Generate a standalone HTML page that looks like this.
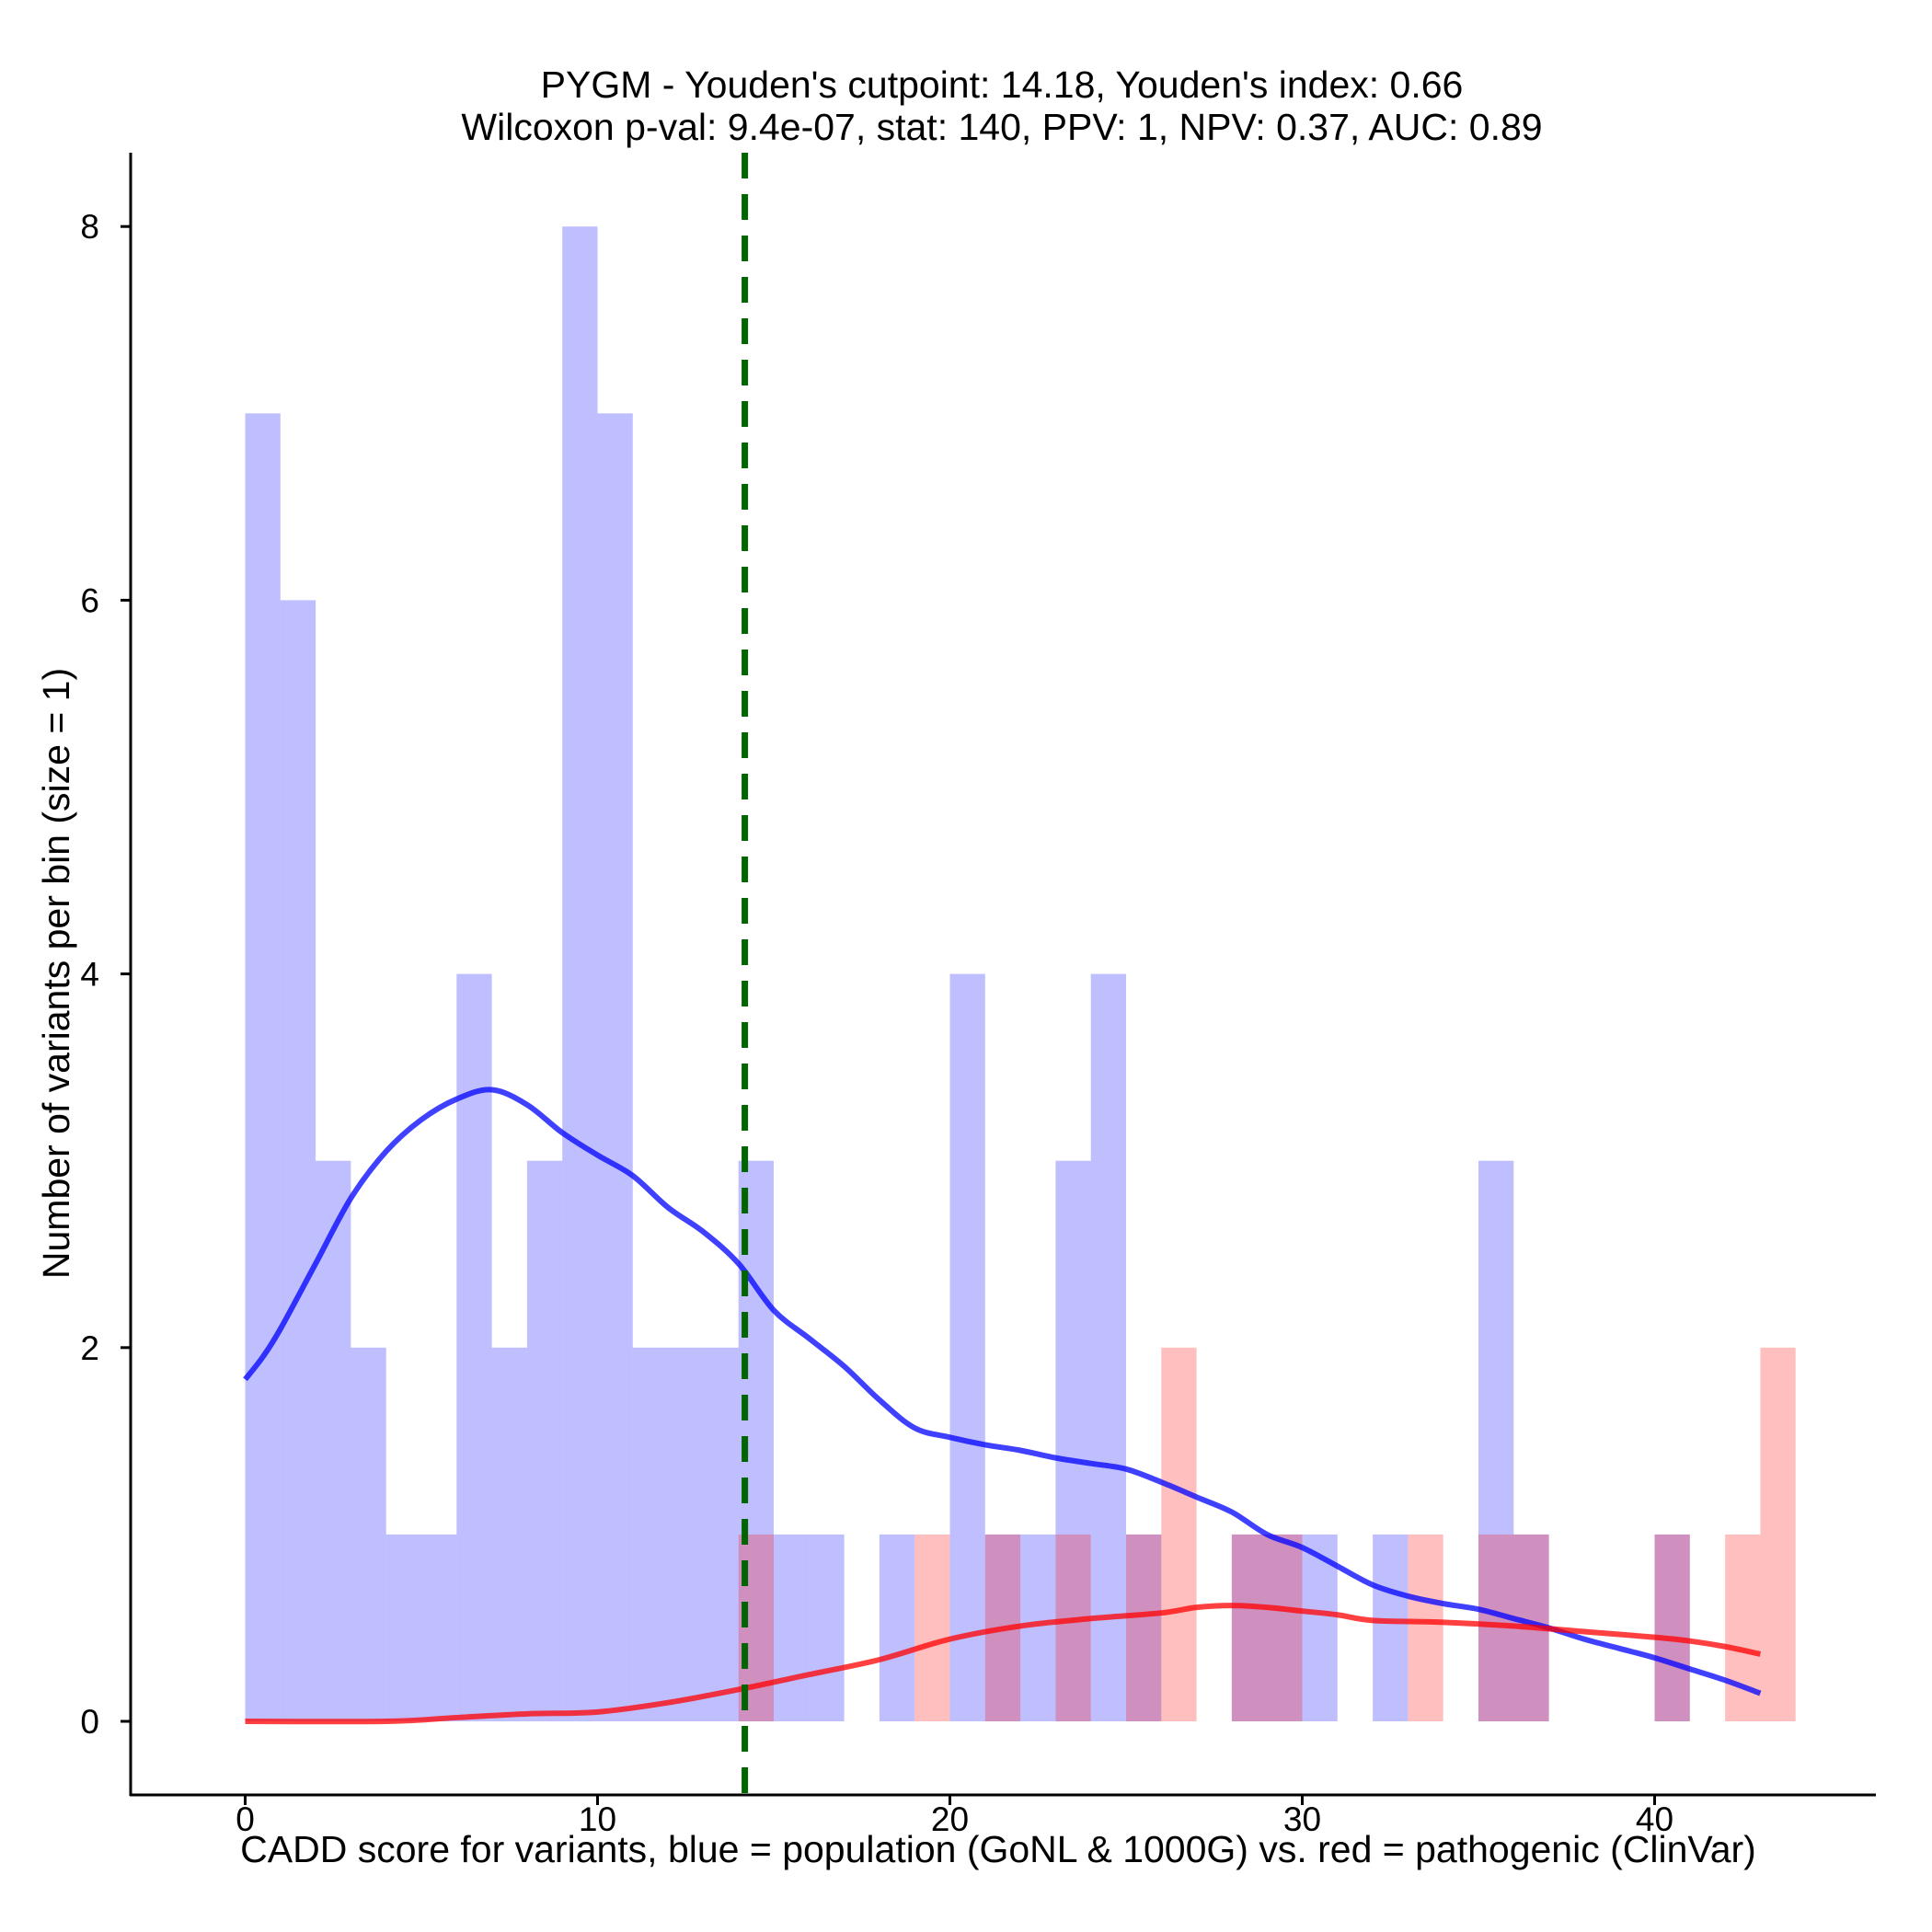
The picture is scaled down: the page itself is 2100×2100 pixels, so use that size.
<!DOCTYPE html>
<html><head><meta charset="utf-8"><style>
html,body{margin:0;padding:0;background:#fff;}
svg{display:block;font-family:"Liberation Sans",Arial,sans-serif;}
</style></head><body>
<svg id="chart" width="2100" height="2100" viewBox="0 0 2100 2100" xmlns="http://www.w3.org/2000/svg">
<rect width="2100" height="2100" fill="#fff"/>
<g id="bars"></g>
<g id="lines"></g>
<g id="axes"></g>
<text x="1089" y="106" font-size="41" text-anchor="middle">PYGM - Youden's cutpoint: 14.18, Youden's index: 0.66</text>
<text x="1089" y="152" font-size="41" text-anchor="middle">Wilcoxon p-val: 9.4e-07, stat: 140, PPV: 1, NPV: 0.37, AUC: 0.89</text>
<text x="1085" y="2024" font-size="41" text-anchor="middle">CADD score for variants, blue = population (GoNL &amp; 1000G) vs. red = pathogenic (ClinVar)</text>
<text x="0" y="0" font-size="41" text-anchor="middle" transform="translate(75,1058) rotate(-90)">Number of variants per bin (size = 1)</text>
</svg>
<script>
const blueCounts=[7,6,3,2,1,1,4,2,3,8,7,2,2,2,3,1,1,0,1,0,4,1,1,3,4,1,0,0,1,1,1,0,1,0,0,3,1,0,0,0,1,0,0,0];
const redCounts=[0,0,0,0,0,0,0,0,0,0,0,0,0,0,1,0,0,0,0,1,0,1,0,1,0,1,2,0,1,1,0,0,0,1,0,1,1,0,0,0,1,0,1,2];
const blueX=[0,0.5,1,2,3,4,5,6,7,8,9,10,11,12,13,14,15,16,17,18,19,20,21,22,23,24,25,26,27,28,29,30,31,32,33,34,35,36,37,38,39,40,41,42,43];
const blueY=[1.83,1.95,2.1,2.45,2.8,3.05,3.22,3.33,3.38,3.3,3.15,3.03,2.92,2.75,2.62,2.45,2.2,2.05,1.9,1.72,1.57,1.52,1.48,1.45,1.41,1.38,1.35,1.28,1.2,1.12,1.0,0.93,0.83,0.73,0.67,0.63,0.6,0.55,0.5,0.44,0.39,0.34,0.28,0.22,0.15];
const redX=[0,4,6,8,10,12,14,16,18,20,22,24,26,27,28,29,30,31,32,34,36,38,40,41,42,43];
const redY=[0,0,0.02,0.04,0.05,0.1,0.17,0.25,0.33,0.44,0.51,0.55,0.58,0.61,0.62,0.61,0.59,0.57,0.54,0.53,0.51,0.48,0.45,0.43,0.4,0.36];
const xTicks=[0,10,20,30,40];
const yTicks=[0,2,4,6,8];
const cutpoint=14.18;
const NS='http://www.w3.org/2000/svg';
const X=v=>266.5+v*38.3;
const Y=v=>1871-v*203.1;
function mk(t,a,p){const e=document.createElementNS(NS,t);for(const k in a)e.setAttribute(k,a[k]);p.appendChild(e);return e;}
function smooth(xs,ys){const p=xs.map((x,i)=>[X(x),Y(ys[i])]);let d='M'+p[0][0]+','+p[0][1];
 for(let i=0;i<p.length-1;i++){const p0=p[i-1]||p[i],p1=p[i],p2=p[i+1],p3=p[i+2]||p2;
  d+=' C'+(p1[0]+(p2[0]-p0[0])/6)+','+(p1[1]+(p2[1]-p0[1])/6)+' '+(p2[0]-(p3[0]-p1[0])/6)+','+(p2[1]-(p3[1]-p1[1])/6)+' '+p2[0]+','+p2[1];}
 return d;}
const bars=document.getElementById('bars');
blueCounts.forEach((c,i)=>{if(!c)return;
 const r=mk('rect',{x:X(i),y:Y(c),width:X(i+1)-X(i),height:Y(0)-Y(c),fill:'rgb(0,0,255)','fill-opacity':0.25},bars);
 
 });
redCounts.forEach((c,i)=>{if(!c)return;
 const r=mk('rect',{x:X(i),y:Y(c),width:X(i+1)-X(i),height:Y(0)-Y(c),fill:'rgb(255,0,0)','fill-opacity':0.25},bars);
 
 });
const lines=document.getElementById('lines');
const bl=mk('path',{d:smooth(blueX,blueY),fill:'none',stroke:'rgba(0,0,255,0.75)','stroke-width':6},lines);


const rl=mk('path',{d:smooth(redX,redY),fill:'none',stroke:'rgba(255,0,0,0.75)','stroke-width':6},lines);


const cl=mk('line',{x1:X(cutpoint),x2:X(cutpoint),y1:166,y2:1951,stroke:'#006400','stroke-width':7,'stroke-dasharray':'28,17'},lines);


const ax=document.getElementById('axes');
const ya=mk('line',{x1:142,x2:142,y1:166,y2:1952,stroke:'#000','stroke-width':3},ax);


const xa=mk('line',{x1:141,x2:2039,y1:1951,y2:1951,stroke:'#000','stroke-width':3},ax);


xTicks.forEach(v=>{
 mk('line',{x1:X(v),x2:X(v),y1:1951,y2:1962,stroke:'#000','stroke-width':3},ax);
 const t=mk('text',{x:X(v),y:1990,'font-size':37,'text-anchor':'middle'},ax);t.textContent=v;
 
 });
yTicks.forEach(v=>{
 mk('line',{x1:131,x2:142,y1:Y(v),y2:Y(v),stroke:'#000','stroke-width':3},ax);
 const t=mk('text',{x:108,y:Y(v)+13,'font-size':37,'text-anchor':'end'},ax);t.textContent=v;
 
 });
</script>
</body></html>
